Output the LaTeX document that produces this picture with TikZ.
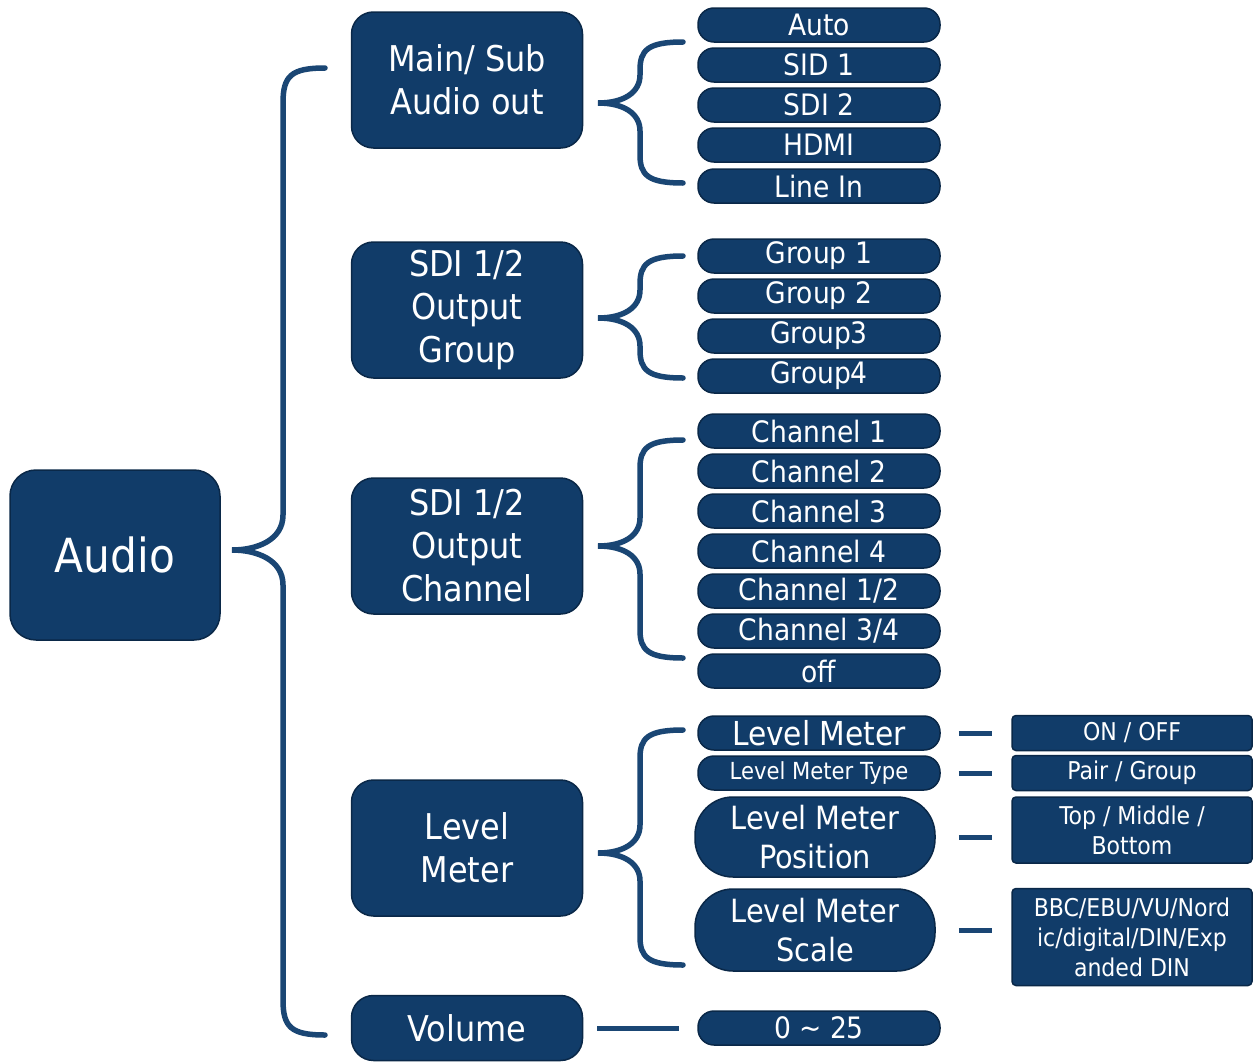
\documentclass[tikz,border=0pt]{standalone}
\usepackage{fontspec}
\setmainfont{DejaVu Sans Condensed}
\usetikzlibrary{calc}
\definecolor{navy}{HTML}{113C69}
\definecolor{navyedge}{HTML}{0A2848}
\definecolor{bracecol}{HTML}{1A4674}
\tikzset{
 base/.style={fill=navy, draw=navyedge, line width=1.5pt, text=white, inner sep=0pt, align=center},
 topbox/.style={base, rounded corners=26pt, minimum width=210pt, minimum height=170pt, font=\fontsize{47}{50}\selectfont},
 mainbox/.style={base, rounded corners=22pt, minimum width=231pt, minimum height=136pt, font=\fontsize{35.5}{43}\selectfont},
 pill/.style={base, rounded corners=16pt, minimum width=242pt, minimum height=34pt, font=\fontsize{29.5}{30}\selectfont},
 bigpill/.style={base, rounded corners=38pt, minimum width=240pt, minimum height=80pt, font=\fontsize{32}{39}\selectfont},
 valbox/.style={base, rounded corners=4pt, minimum width=240pt, font=\fontsize{24.5}{30}\selectfont},
 bracestyle/.style={draw=bracecol, line width=5.5pt, line cap=round},
 shortline/.style={draw=bracecol, line width=5pt},
}
% #1 tip x, #2 tip y, #3 bar x, #4 top y, #5 bottom y, #6 end x, #7 curl
\newcommand{\bracepath}[7]{%
  \draw[bracestyle] (#6,#4) .. controls (#3+8,#4) and (#3,#4+8) .. (#3,#4+#7)
    -- (#3,#2-#7) .. controls (#3,#2-10) and (#1+25,#2) .. (#1,#2)
    .. controls (#1+25,#2) and (#3,#2+10) .. (#3,#2+#7)
    -- (#3,#5-#7) .. controls (#3,#5-8) and (#3+8,#5) .. (#6,#5);}
\begin{document}
\begin{tikzpicture}[x=1pt,y=-1pt]
\fill[white] (0,0) rectangle (1254,1063);
\useasboundingbox (0,0) rectangle (1254,1063);

% root
\node[topbox] (audio) at (115,555) {Audio};

% level 2
\node[mainbox] (mainsub) at (467,80) {Main/ Sub\\Audio out};
\node[mainbox] (grp) at (467,310) {SDI 1/2\\Output\\Group};
\node[mainbox] (chn) at (467,546) {SDI 1/2\\Output\\Channel};
\node[mainbox] (lvl) at (467,848) {Level\\Meter};
\node[mainbox, minimum height=65pt] (vol) at (467,1028) {Volume};

% Main/Sub items
\node[pill] (auto) at (819,25) {Auto};
\node[pill] (sid1) at (819,65) {SID 1};
\node[pill] (sdi2) at (819,105) {SDI 2};
\node[pill] (hdmi) at (819,145) {HDMI};
\node[pill] (linein) at (819,186) {Line In};

% Group items
\node[pill] (g1) at (819,256) {Group 1};
\node[pill] (g2) at (819,296) {Group 2};
\node[pill] (g3) at (819,336) {Group3};
\node[pill] (g4) at (819,376) {Group4};

% Channel items
\node[pill] (c1) at (819,431) {Channel 1};
\node[pill] (c2) at (819,471) {Channel 2};
\node[pill] (c3) at (819,511) {Channel 3};
\node[pill] (c4) at (819,551) {Channel 4};
\node[pill] (c12) at (819,591) {Channel 1/2};
\node[pill] (c34) at (819,631) {Channel 3/4};
\node[pill] (off) at (819,671) {off};

% Level meter items
\node[pill, font=\fontsize{33}{34}\selectfont] (lm1) at (819,733) {Level Meter};
\node[pill, font=\fontsize{23.5}{24}\selectfont] (lm2) at (819,773) {Level Meter Type};
\node[bigpill] (lm3) at (815,837) {Level Meter\\Position};
\node[bigpill, minimum height=82pt] (lm4) at (815,930) {Level Meter\\Scale};

% value boxes
\node[valbox, minimum height=35pt] (onoff) at (1132,733) {ON / OFF};
\node[valbox, minimum height=35pt] (pair) at (1132,773) {Pair / Group};
\node[valbox, minimum height=66pt] (pos) at (1132,830) {Top / Middle /\\Bottom};
\node[valbox, minimum height=97pt] (scale) at (1132,937) {BBC/EBU/VU/Nord\\ic/digital/DIN/Exp\\anded DIN};

% volume value
\node[pill] (volval) at (819,1028) {0 \char"007E{} 25};

% braces
\bracepath{232}{550}{283}{68}{1035}{325}{35}
\bracepath{598}{103}{640}{42}{183}{683}{28}
\bracepath{598}{318}{640}{256}{378}{683}{28}
\bracepath{598}{546}{640}{440}{658}{683}{28}
\bracepath{598}{853}{640}{730}{965}{683}{28}

% short connectors
\draw[shortline] ([xshift=18pt]lm1.east) -- ([xshift=-19pt]onoff.west |- lm1.east);
\draw[shortline] ([xshift=18pt]lm2.east) -- ([xshift=-19pt]pair.west |- lm2.east);
\draw[shortline] ([xshift=23pt]lm3.east) -- ([xshift=-19pt]pos.west |- lm3.east);
\draw[shortline] ([xshift=23pt]lm4.east) -- ([xshift=-19pt]scale.west |- lm4.east);
\draw[shortline] ([xshift=14pt]vol.east) -- ([xshift=-18pt]volval.west);
\end{tikzpicture}
\end{document}
